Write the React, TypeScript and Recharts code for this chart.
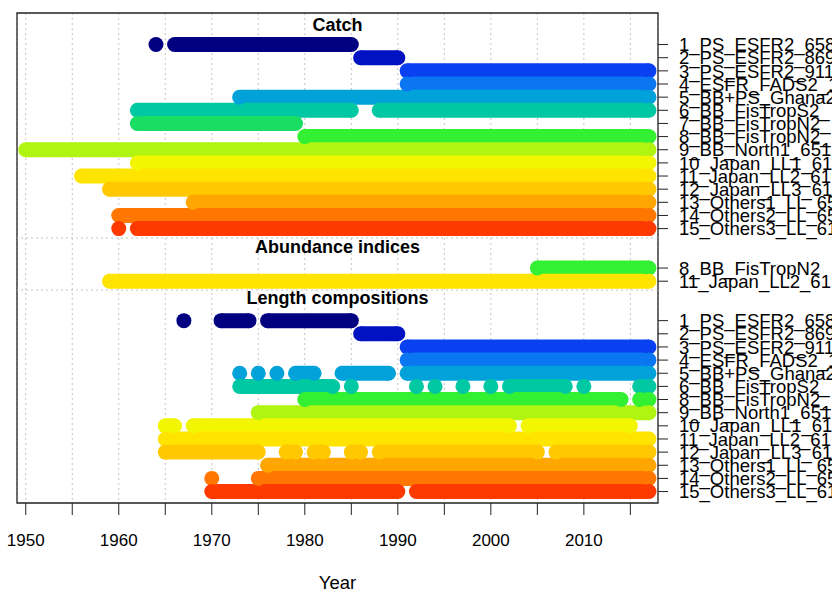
import {
  CartesianGrid,
  ComposedChart,
  Line,
  ReferenceArea,
  ReferenceLine,
  XAxis,
  YAxis,
} from "recharts";

type Span = [number, number];

// fleet names as printed on the right (cut off by the page edge)
const fleetNames = [
  "1_PS_ESFR2_658",
  "2_PS_ESFR2_869",
  "3_PS_ESFR2_911",
  "4_ESFR_FADS2_1",
  "5_BB+PS_Ghana2",
  "6_BB_FisTropS2_",
  "7_BB_FisTropN2_",
  "8_BB_FisTropN2_",
  "9_BB_North1_651",
  "10_Japan_LL1_61",
  "11_Japan_LL2_61",
  "12_Japan_LL3_61",
  "13_Others1_LL_65",
  "14_Others2_LL_65",
  "15_Others3_LL_61",
];

const fleetColors = [
  "#000080",
  "#0012C2",
  "#0840F2",
  "#0A76F2",
  "#00A2D9",
  "#00C8A2",
  "#1ADE64",
  "#33F033",
  "#B0F412",
  "#F2F600",
  "#FFE400",
  "#FFC800",
  "#FFA600",
  "#FF7600",
  "#FF3A00",
];

// years with data, as [first, last] runs
const catchFleets = [1, 2, 3, 4, 5, 6, 7, 8, 9, 10, 11, 12, 13, 14, 15];
const catchSpans: Span[][] = [
  [[1964, 1964], [1966, 1985]],
  [[1986, 1990]],
  [[1991, 2017]],
  [[1991, 2017]],
  [[1973, 2017]],
  [[1962, 1985], [1988, 2017]],
  [[1962, 1979]],
  [[1980, 2017]],
  [[1950, 2017]],
  [[1962, 2017]],
  [[1956, 2017]],
  [[1959, 2017]],
  [[1968, 2017]],
  [[1960, 2017]],
  [[1960, 1960], [1962, 2017]],
];

const abundanceFleets = [8, 11];
const abundanceLabels = ["8_BB_FisTropN2", "11_Japan_LL2_61"];
const abundanceSpans: Span[][] = [
  [[2005, 2017]],
  [[1959, 2017]],
];

const lengthFleets = [1, 2, 3, 4, 5, 6, 8, 9, 10, 11, 12, 13, 14, 15];
const lengthSpans: Span[][] = [
  [[1967, 1967], [1971, 1974], [1976, 1985]],
  [[1986, 1990]],
  [[1991, 2017]],
  [[1991, 2017]],
  [[1973, 1973], [1975, 1975], [1977, 1977], [1979, 1981], [1984, 1989], [1991, 2017]],
  [[1973, 1983], [1985, 1985], [1992, 1992], [1994, 1994], [1997, 1997], [2000, 2000], [2002, 2008], [2010, 2010], [2016, 2017]],
  [[1980, 2014], [2016, 2017]],
  [[1975, 2017]],
  [[1965, 1966], [1968, 2002], [2004, 2015]],
  [[1965, 2017]],
  [[1965, 1975], [1978, 1979], [1981, 1982], [1985, 1986], [1988, 2005], [2007, 2017]],
  [[1976, 2017]],
  [[1970, 1970], [1975, 2017]],
  [[1970, 1990], [1992, 2017]],
];

const yearTicks = [1950, 1955, 1960, 1965, 1970, 1975, 1980, 1985, 1990, 1995, 2000, 2005, 2010, 2015];
const yearLabels = [1950, 1960, 1970, 1980, 1990, 2000, 2010];
const panelTitles = ["Catch", "Abundance indices", "Length compositions"];

// layout of the row axis (one unit per fleet row, top to bottom)
const ROW_START = [0, 17, 21];
const TITLE_AT = [-1.48, 15.4, 19.28];
const SEPARATORS = [14.71, 18.67];
const X_DOMAIN: [number, number] = [1949.06, 2017.97];
const Y_DOMAIN: [number, number] = [-2.4, 34.87];
const FONT = "'Liberation Sans', Arial, Helvetica, sans-serif";

interface Row {
  id: string;
  k: number;
  label: string;
  color: string;
  points: { year: number; k: number | null }[];
}

function toPoints(spans: Span[], k: number) {
  const pts: { year: number; k: number | null }[] = [];
  spans.forEach(([from, to], i) => {
    if (i > 0) pts.push({ year: spans[i - 1][1] + 1, k: null });
    pts.push({ year: from, k });
    if (to !== from) pts.push({ year: to, k });
  });
  return pts;
}

const rows: Row[] = [
  ...catchFleets.map((f, i) => ({
    id: `catch-${f}`,
    k: ROW_START[0] + i,
    label: fleetNames[f - 1],
    color: fleetColors[f - 1],
    points: toPoints(catchSpans[i], ROW_START[0] + i),
  })),
  ...abundanceFleets.map((f, i) => ({
    id: `cpue-${f}`,
    k: ROW_START[1] + i,
    label: abundanceLabels[i],
    color: fleetColors[f - 1],
    points: toPoints(abundanceSpans[i], ROW_START[1] + i),
  })),
  ...lengthFleets.map((f, i) => ({
    id: `len-${f}`,
    k: ROW_START[2] + i,
    label: fleetNames[f - 1],
    color: fleetColors[f - 1],
    points: toPoints(lengthSpans[i], ROW_START[2] + i),
  })),
];

const labelByRow = new Map(rows.map((r) => [r.k, r.label]));

function RowTick({ x, y, payload }: any) {
  return (
    <text x={x} y={y} dy="0.36em" fontSize={18.5} fill="#000" fontFamily={FONT}>
      {labelByRow.get(payload.value)}
    </text>
  );
}

function YearTick({ x, y, payload }: any) {
  if (!yearLabels.includes(payload.value)) return <g />;
  return (
    <text x={x} y={y + 31} textAnchor="middle" fontSize={17} fill="#000" fontFamily={FONT}>
      {payload.value}
    </text>
  );
}

export default function App() {
  return (
    <div style={{ position: "absolute", left: 0, top: 0, width: 832, height: 592, overflow: "hidden", background: "#fff" }}>
      <ComposedChart width={832} height={592} margin={{ top: 13, right: 0, bottom: 0, left: 17 }}>
        <CartesianGrid horizontal={false} stroke="#c4c4c4" strokeDasharray="2 3" />
        <XAxis
          type="number"
          dataKey="year"
          domain={X_DOMAIN}
          ticks={yearTicks}
          interval={0}
          height={89}
          axisLine={false}
          tickSize={12}
          tickMargin={0}
          tickLine={{ stroke: "#222" }}
          tick={<YearTick />}
          label={{ value: "Year", position: "insideBottom", offset: 3, fontSize: 18.5, fill: "#000", fontFamily: FONT }}
        />
        <YAxis
          type="number"
          orientation="right"
          domain={Y_DOMAIN}
          reversed
          ticks={rows.map((r) => r.k)}
          interval={0}
          width={174}
          axisLine={false}
          tickSize={10}
          tickMargin={11}
          tickLine={{ stroke: "#222" }}
          tick={<RowTick />}
        />
        {SEPARATORS.map((s) => (
          <ReferenceLine key={`sep-${s}`} y={s} stroke="#c4c4c4" strokeDasharray="2 3" />
        ))}
        {rows.map((r) => (
          <Line
            key={r.id}
            data={r.points}
            dataKey="k"
            type="linear"
            stroke={r.color}
            strokeWidth={15}
            activeDot={false}
            isAnimationActive={false}
            dot={(p: any) =>
              typeof p.cy === "number" && p.value != null ? (
                <circle key={`${r.id}-${p.index}`} cx={p.cx} cy={p.cy} r={7.5} fill={r.color} />
              ) : (
                <g key={`${r.id}-${p.index}`} />
              )
            }
          />
        ))}
        {panelTitles.map((t, i) => (
          <ReferenceLine
            key={t}
            y={TITLE_AT[i]}
            stroke="none"
            label={{ value: t, position: "center", fontSize: 18, fontWeight: "bold", fill: "#000", fontFamily: FONT }}
          />
        ))}
        <ReferenceArea
          x1={X_DOMAIN[0]}
          x2={X_DOMAIN[1]}
          y1={Y_DOMAIN[0]}
          y2={Y_DOMAIN[1]}
          fill="none"
          stroke="#222"
          strokeWidth={1.3}
        />
      </ComposedChart>
    </div>
  );
}
